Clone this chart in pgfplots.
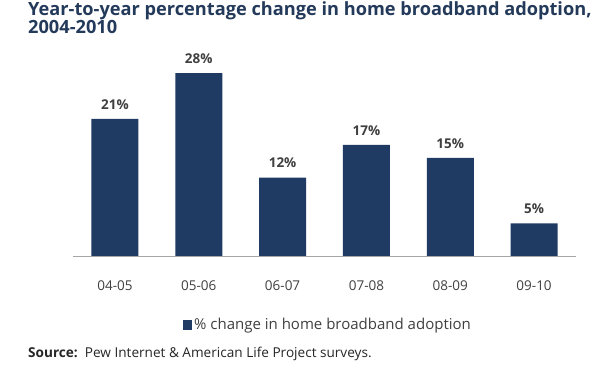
\documentclass[border=0pt]{standalone}
\usepackage{pgfplots}
\pgfplotsset{compat=1.18}
\usepackage{fontspec}
\setmainfont{Open Sans}
\definecolor{barblue}{HTML}{1F3B63}
\definecolor{titleblue}{HTML}{243A5A}
\definecolor{ticktxt}{HTML}{404040}
\begin{document}
\begin{tikzpicture}
\path[use as bounding box,fill=white] (0,0) rectangle (600bp,372bp);
\node[anchor=north west,align=left,text=titleblue,font=\fontsize{18.2bp}{16.5bp}\selectfont\bfseries,inner sep=0pt] at (28bp,371bp) {Year-to-year percentage change in home broadband adoption,\\2004-2010};
\begin{axis}[
  at={(73bp,116bp)}, anchor=south west,
  scale only axis, width=503bp, height=196bp,
  xmin=-0.5, xmax=5.5, ymin=0, ymax=30,
  axis y line=none, axis x line*=bottom,
  axis line style={draw=gray!70},
  xtick=data, xticklabels={04-05,05-06,06-07,07-08,08-09,09-10},
  xtick style={draw=none},
  x tick label style={font=\fontsize{13.5bp}{16bp}\selectfont, text=ticktxt, yshift=-17bp},
  ybar, bar width=47bp,
  /pgf/number format/assume math mode=true,
  nodes near coords={\pgfmathprintnumber{\pgfplotspointmeta}\%},
  every node near coord/.append style={font=\fontsize{13.5bp}{16bp}\selectfont\bfseries, text=ticktxt, yshift=6bp},
  legend style={at={(0.507,-0.352)}, anchor=center, draw=none, font=\fontsize{15bp}{16bp}\selectfont, text=ticktxt},
  legend image code/.code={\fill[barblue] (0bp,-5bp) rectangle (9bp,5bp);},
  clip=false,
]
\addplot[fill=barblue, draw=none] coordinates {(0,21) (1,28) (2,12) (3,17) (4,15) (5,5)};
\addlegendentry{\% change in home broadband adoption}
\end{axis}
\node[anchor=west,inner sep=0pt,font=\fontsize{13.6bp}{15bp}\selectfont,text=black!85] at (28bp,18bp) {\textbf{Source:}\ \ Pew Internet \& American Life Project surveys.};
\end{tikzpicture}
\end{document}
